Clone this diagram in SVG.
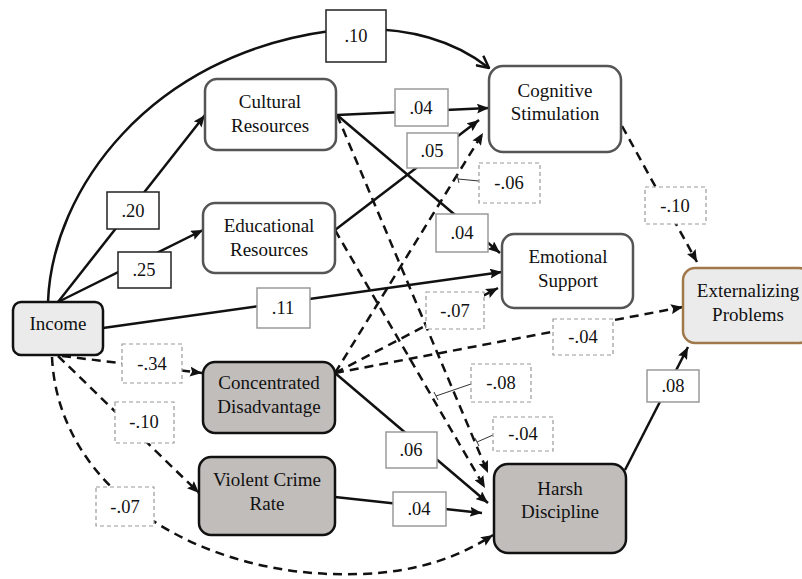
<svg xmlns="http://www.w3.org/2000/svg" width="802" height="579" viewBox="0 0 802 579">
<defs>
<marker id="ah" viewBox="0 0 12 10" refX="12" refY="5" markerWidth="12" markerHeight="10" markerUnits="userSpaceOnUse" orient="auto"><path d="M0,0 L12,5 L0,10 L2,5 z" fill="#111"/></marker>
<marker id="ao" viewBox="0 0 14 14" refX="13" refY="7" markerWidth="14" markerHeight="14" markerUnits="userSpaceOnUse" orient="auto"><path d="M1,1 L13,7 L1,13" fill="none" stroke="#111" stroke-width="2.5"/></marker>
</defs>
<style>
.c{fill:none;stroke:#111;stroke-width:2.5}
.d{stroke-dasharray:9,6}
.lead{fill:none;stroke:#333;stroke-width:1}
.lb{fill:#fff;stroke:#9a9a9a;stroke-width:1.5}
.lk{fill:#fff;stroke:#222;stroke-width:1.5}
.ln{fill:#fff;stroke:#9a9a9a;stroke-width:1.2;stroke-dasharray:4,3}
.lt{font-family:"Liberation Serif","Times New Roman",serif;font-size:18.5px;fill:#111;text-anchor:middle}
.nw{fill:#fff;stroke:#555;stroke-width:2.5}
.ng{fill:#c1bdbb;stroke:#111;stroke-width:2.5}
.nt{font-family:"Liberation Serif","Times New Roman",serif;font-size:19px;fill:#111;text-anchor:middle}
</style>
<rect width="802" height="579" fill="#fff"/>
<g id="connectors">
<path class="c" d="M48,302 C52,190 150,55 330,31 C410,22 460,45 489,68" marker-end="url(#ao)"/>
<path class="c" d="M58,302 L205,115" marker-end="url(#ah)"/>
<path class="c" d="M58,302 L203,230" marker-end="url(#ah)"/>
<path class="c" d="M103,328 L502,272" marker-end="url(#ah)"/>
<path class="c d" d="M62,356 L202,373" marker-end="url(#ah)"/>
<path class="c d" d="M58,356 L199,493" marker-end="url(#ah)"/>
<path class="c d" d="M52,357 C58,490 200,580 360,574 C420,572 460,556 493,535" marker-end="url(#ah)"/>
<path class="c" d="M337,115 L489,108" marker-end="url(#ah)"/>
<path class="c" d="M337,115 L500,253" marker-end="url(#ah)"/>
<path class="c d" d="M337,115 L488,473" marker-end="url(#ah)"/>
<path class="c" d="M335,230 L479,120" marker-end="url(#ah)"/>
<path class="c d" d="M335,230 L485,488" marker-end="url(#ah)"/>
<path class="c d" d="M335,373 L483,133" marker-end="url(#ah)"/>
<path class="c d" d="M335,373 L498,288" marker-end="url(#ah)"/>
<path class="c d" d="M335,373 L683,307" marker-end="url(#ah)"/>
<path class="c" d="M335,373 L488,503" marker-end="url(#ah)"/>
<path class="c" d="M335,497 L482,513" marker-end="url(#ah)"/>
<path class="c d" d="M622,126 L697,262" marker-end="url(#ah)"/>
<path class="c" d="M625,470 L688,347" marker-end="url(#ah)"/>
<path class="lead" d="M479,181 L458,179 M457,175 L459,183"/>
<path class="lead" d="M471,384 L436,396 M434,392 L438,400"/>
<path class="lead" d="M493,435 L477,442 M475,438 L479,446"/>
</g>
<g id="labels">
<rect class="lk" x="326" y="10" width="60" height="52"/><text class="lt" x="356" y="42">.10</text>
<rect class="lk" x="107" y="192" width="52" height="37"/><text class="lt" x="133" y="217">.20</text>
<rect class="lk" x="118" y="252" width="53" height="36"/><text class="lt" x="144" y="276">.25</text>
<rect class="lb" x="257" y="288" width="53" height="40"/><text class="lt" x="283" y="314">.11</text>
<rect class="ln" x="122" y="344" width="60" height="39"/><text class="lt" x="152" y="370">-.34</text>
<rect class="ln" x="115" y="402" width="59" height="41"/><text class="lt" x="144" y="428">-.10</text>
<rect class="ln" x="96" y="487" width="58" height="39"/><text class="lt" x="125" y="513">-.07</text>
<rect class="lb" x="395" y="89" width="53" height="37"/><text class="lt" x="421" y="114">.04</text>
<rect class="lb" x="407" y="133" width="51" height="35"/><text class="lt" x="432" y="157">.05</text>
<rect class="ln" x="479" y="163" width="61" height="40"/><text class="lt" x="509" y="189">-.06</text>
<rect class="lb" x="436" y="214" width="52" height="38"/><text class="lt" x="462" y="239">.04</text>
<rect class="ln" x="645" y="187" width="61" height="37"/><text class="lt" x="675" y="212">-.10</text>
<rect class="ln" x="426" y="292" width="58" height="37"/><text class="lt" x="455" y="317">-.07</text>
<rect class="ln" x="553" y="319" width="60" height="36"/><text class="lt" x="583" y="343">-.04</text>
<rect class="ln" x="471" y="364" width="60" height="38"/><text class="lt" x="501" y="389">-.08</text>
<rect class="ln" x="493" y="417" width="60" height="34"/><text class="lt" x="523" y="440">-.04</text>
<rect class="lb" x="386" y="432" width="51" height="36"/><text class="lt" x="411" y="456">.06</text>
<rect class="lb" x="393" y="492" width="53" height="34"/><text class="lt" x="419" y="515">.04</text>
<rect class="lb" x="647" y="370" width="52" height="32"/><text class="lt" x="673" y="392">.08</text>
</g>
<g id="income"><rect x="13" y="302" width="90" height="53" rx="8" fill="#ebebeb" stroke="#111" stroke-width="2.5"/><text class="nt" x="58" y="330">Income</text></g>
<g id="cultural"><rect class="nw" x="205" y="79" width="131" height="71" rx="12"/><text class="nt" x="270" y="108">Cultural</text><text class="nt" x="270" y="132">Resources</text></g>
<g id="educational"><rect class="nw" x="203" y="203" width="132" height="70" rx="12"/><text class="nt" x="269" y="232">Educational</text><text class="nt" x="269" y="256">Resources</text></g>
<g id="cognitive"><rect class="nw" x="489" y="66" width="132" height="86" rx="14"/><text class="nt" x="555" y="97">Cognitive</text><text class="nt" x="555" y="120">Stimulation</text></g>
<g id="emotional"><rect class="nw" x="502" y="234" width="131" height="74" rx="12"/><text class="nt" x="568" y="263">Emotional</text><text class="nt" x="568" y="287">Support</text></g>
<g id="externalizing"><rect x="683" y="268" width="128" height="75" rx="12" fill="#ebebeb" stroke="#a0784a" stroke-width="2.5"/><text class="nt" x="748" y="297">Externalizing</text><text class="nt" x="748" y="321">Problems</text></g>
<g id="concentrated"><rect class="ng" x="203" y="362" width="132" height="71" rx="12"/><text class="nt" x="269" y="389">Concentrated</text><text class="nt" x="269" y="413">Disadvantage</text></g>
<g id="violent"><rect class="ng" x="199" y="457" width="136" height="78" rx="12"/><text class="nt" x="267" y="486">Violent Crime</text><text class="nt" x="267" y="510">Rate</text></g>
<g id="harsh"><rect class="ng" x="494" y="464" width="132" height="89" rx="14"/><text class="nt" x="560" y="495">Harsh</text><text class="nt" x="560" y="518">Discipline</text></g>
</svg>
